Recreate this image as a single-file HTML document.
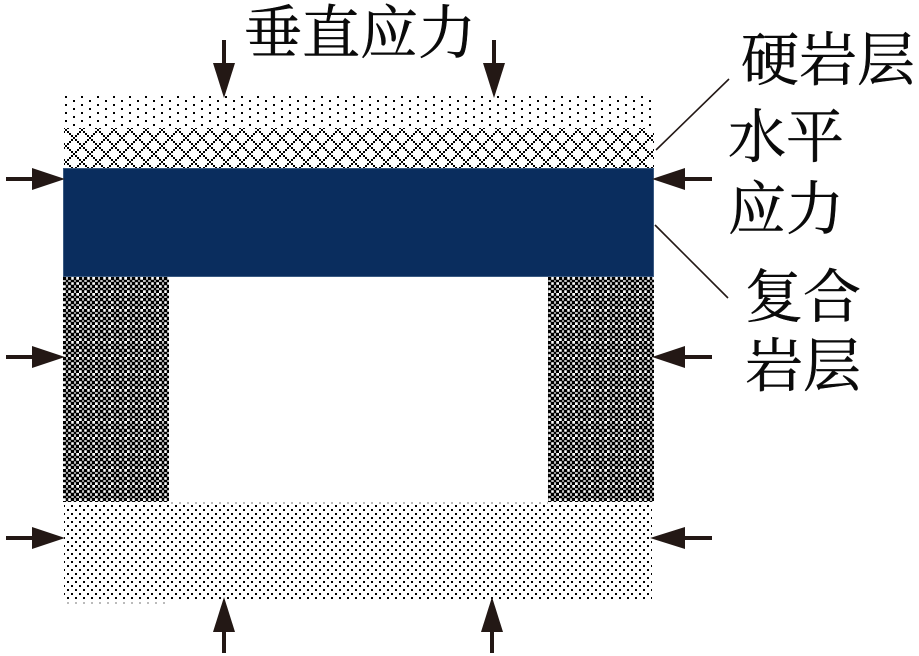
<!DOCTYPE html>
<html>
<head>
<meta charset="utf-8">
<style>
html,body{margin:0;padding:0;background:#fff;}
svg{display:block;}
text{font-family:"Liberation Serif","Noto Serif CJK SC",serif;font-size:58px;fill:#0a0a0a;stroke:#0a0a0a;stroke-width:0.5px;}
</style>
</head>
<body>
<svg width="919" height="656" viewBox="0 0 919 656" xmlns="http://www.w3.org/2000/svg">
<defs>
<pattern id="topdots" patternUnits="userSpaceOnUse" width="16" height="8" x="65" y="96">
<rect x="0" y="0" width="2" height="2" fill="#000"/>
<rect x="8" y="4" width="2" height="2" fill="#000"/>
</pattern>
<pattern id="botdots" patternUnits="userSpaceOnUse" width="8" height="8" x="67" y="509">
<rect x="0" y="0" width="2" height="2" fill="#000"/>
<rect x="4" y="4" width="2" height="2" fill="#000"/>
</pattern>
<pattern id="graydots" patternUnits="userSpaceOnUse" width="8" height="2" x="67" y="502">
<rect x="0" y="0" width="2" height="2" fill="#bbb"/>
</pattern>
<pattern id="cross" patternUnits="userSpaceOnUse" width="16" height="16" x="74" y="129">
<g fill="#000">
<rect x="7" y="0" width="2" height="2"/><rect x="9" y="2" width="2" height="2"/><rect x="11" y="4" width="2" height="2"/><rect x="13" y="6" width="2" height="2"/>
<rect x="15" y="8" width="1" height="2"/><rect x="0" y="8" width="1" height="2"/>
<rect x="13" y="10" width="2" height="2"/><rect x="11" y="12" width="2" height="2"/><rect x="9" y="14" width="2" height="2"/>
<rect x="5" y="2" width="2" height="2"/><rect x="3" y="4" width="2" height="2"/><rect x="1" y="6" width="2" height="2"/>
<rect x="1" y="10" width="2" height="2"/><rect x="3" y="12" width="2" height="2"/><rect x="5" y="14" width="2" height="2"/>
</g>
</pattern>
<pattern id="check" patternUnits="userSpaceOnUse" width="16" height="16" x="63" y="277">
<rect width="16" height="16" fill="#fff"/>
<g fill="#000" stroke="#000" stroke-width="0.5">
<rect x="0" y="0" width="3" height="3"/><rect x="0" y="5" width="3" height="3"/><rect x="0" y="11" width="3" height="2"/>
<rect x="3" y="3" width="2" height="2"/><rect x="3" y="8" width="2" height="3"/><rect x="3" y="13" width="2" height="3"/>
<rect x="5" y="0" width="3" height="3"/><rect x="5" y="5" width="3" height="3"/><rect x="5" y="11" width="3" height="2"/>
<rect x="8" y="3" width="3" height="2"/><rect x="8" y="8" width="3" height="3"/><rect x="8" y="13" width="3" height="3"/>
<rect x="11" y="0" width="2" height="3"/><rect x="11" y="5" width="2" height="3"/><rect x="11" y="11" width="2" height="2"/>
<rect x="13" y="3" width="3" height="2"/><rect x="13" y="8" width="3" height="3"/><rect x="13" y="13" width="3" height="3"/>
</g>
</pattern>
</defs>

<rect x="64" y="96" width="588" height="32" fill="url(#topdots)"/>
<rect x="64" y="128" width="590" height="40" fill="url(#cross)"/>
<rect x="63" y="277" width="106" height="225" fill="url(#check)"/>
<rect x="548" y="277" width="106" height="225" fill="url(#check)"/>
<rect x="64" y="504" width="588" height="96" fill="url(#botdots)"/>
<rect x="169" y="502" width="379" height="2" fill="url(#graydots)"/>
<rect x="64" y="602" width="101" height="2" fill="url(#graydots)"/>
<rect x="63.5" y="168.5" width="590" height="108" fill="#0a2d5e" stroke="#3a5a82" stroke-width="1"/>

<g fill="#231815">
<rect x="222" y="40" width="4" height="24"/>
<polygon points="213,63 235,63 224,98"/>
<rect x="492" y="40" width="4" height="24"/>
<polygon points="483,63 505,63 494,98"/>
<rect x="222" y="631" width="4" height="22"/>
<polygon points="213,632 235,632 224,597"/>
<rect x="490" y="631" width="4" height="22"/>
<polygon points="481,632 503,632 492,597"/>
<rect x="6" y="177" width="28" height="4"/>
<polygon points="32,168 32,190 65,179"/>
<rect x="6" y="355" width="28" height="4"/>
<polygon points="32,346 32,368 65,357"/>
<rect x="6" y="536" width="28" height="4"/>
<polygon points="32,527 32,549 65,538"/>
<rect x="684" y="177" width="28" height="4"/>
<polygon points="685,168 685,190 652,179"/>
<rect x="684" y="355" width="28" height="4"/>
<polygon points="685,346 685,368 652,357"/>
<rect x="684" y="536" width="28" height="4"/>
<polygon points="685,527 685,549 650,538"/>
</g>

<line x1="656" y1="150" x2="729" y2="79" stroke="#231815" stroke-width="1.6"/>
<line x1="655" y1="225" x2="728" y2="298" stroke="#231815" stroke-width="1.6"/>

<text x="244" y="53">垂直应力</text>
<text x="741" y="80">硬岩层</text>
<text x="728" y="157">水平</text>
<text x="728" y="229">应力</text>
<text x="745" y="317">复合</text>
<text x="745" y="386">岩层</text>
</svg>
</body>
</html>
